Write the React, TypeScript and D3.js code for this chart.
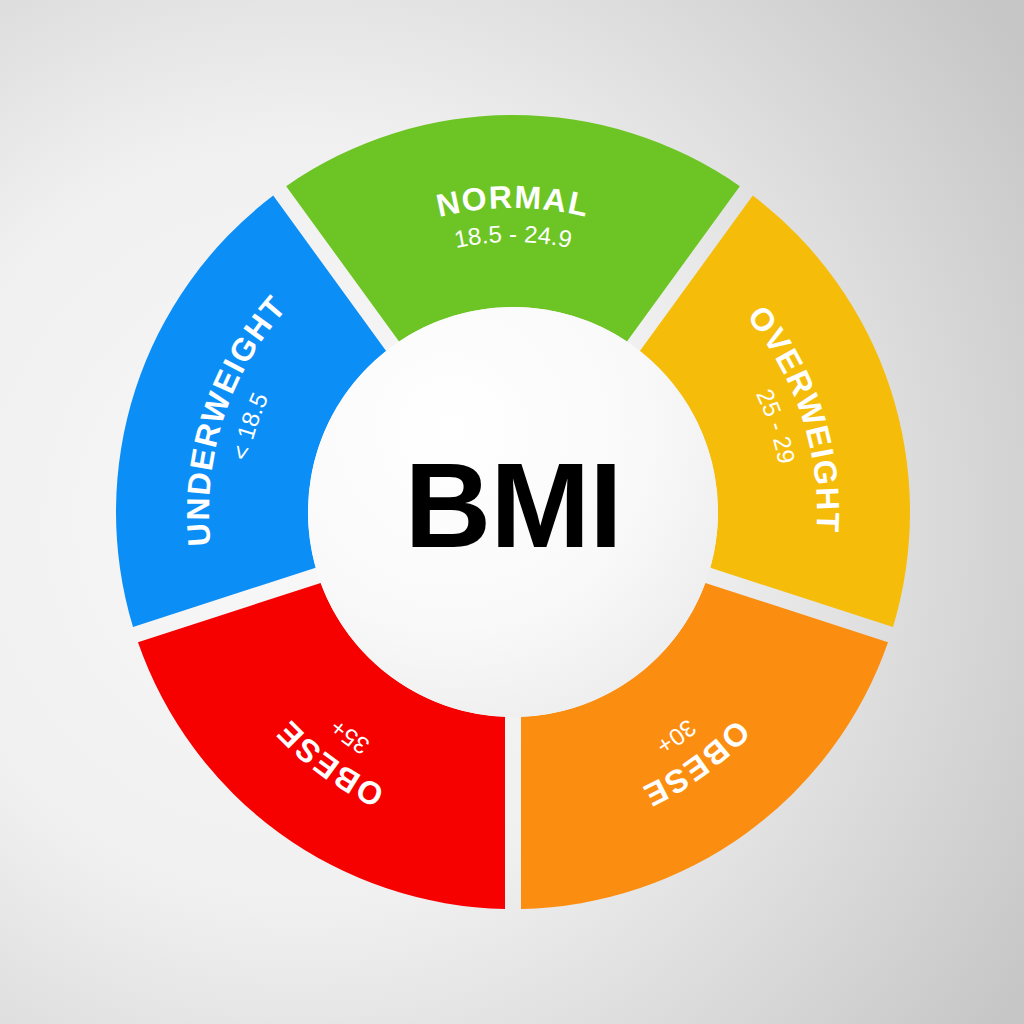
import { useEffect, useRef } from 'react';
import * as d3 from 'd3';

// segments go clockwise starting with the one at the top
const categories = ['NORMAL', 'OVERWEIGHT', 'OBESE', 'OBESE', 'UNDERWEIGHT'];
const ranges = ['18.5 - 24.9', '25 - 29', '30+', '35+', '< 18.5'];
const shares = [1, 1, 1, 1, 1];
const colors = ['#6cc524', '#f5bd0a', '#fb8d10', '#f70000', '#0b8ef6'];
const centerLabel = 'BMI';

export default function App() {
  const svgRef = useRef<SVGSVGElement>(null);
  const width = 1024;
  const height = 1024;

  useEffect(() => {
    if (!svgRef.current) return;
    const svg = d3.select(svgRef.current);
    svg.selectAll('*').remove();

    const cx = 513;
    const cy = 512;
    const outerR = 397;
    const innerR = 205;
    const gap = 16;

    const defs = svg.append('defs');

    const bg = defs.append('radialGradient')
      .attr('id', 'bg-grad')
      .attr('gradientUnits', 'userSpaceOnUse')
      .attr('cx', 300).attr('cy', 520).attr('r', 860);
    bg.append('stop').attr('offset', '0%').attr('stop-color', '#f8f8f8');
    bg.append('stop').attr('offset', '45%').attr('stop-color', '#f0f0f0');
    bg.append('stop').attr('offset', '100%').attr('stop-color', '#c6c6c6');

    const hub = defs.append('radialGradient')
      .attr('id', 'hub-grad')
      .attr('cx', '35%').attr('cy', '30%').attr('r', '80%');
    hub.append('stop').attr('offset', '0%').attr('stop-color', '#ffffff');
    hub.append('stop').attr('offset', '60%').attr('stop-color', '#f9f9f9');
    hub.append('stop').attr('offset', '100%').attr('stop-color', '#ececec');

    svg.append('rect')
      .attr('width', width)
      .attr('height', height)
      .attr('fill', 'url(#bg-grad)');

    const g = svg.append('g').attr('transform', `translate(${cx},${cy})`);

    const pie = d3.pie<number>()
      .sort(null)
      .startAngle(-Math.PI / 5)
      .endAngle(2 * Math.PI - Math.PI / 5);
    const arcs = pie(shares);

    const arc = d3.arc<d3.PieArcDatum<number>>()
      .innerRadius(innerR)
      .outerRadius(outerR)
      .padRadius(outerR)
      .padAngle(gap / outerR);

    g.selectAll('path.seg')
      .data(arcs)
      .enter()
      .append('path')
      .attr('class', 'seg')
      .attr('fill', (_, i) => colors[i])
      .attr('d', arc);

    g.append('circle')
      .attr('r', innerR)
      .attr('fill', 'url(#hub-grad)');

    // curved labels: clockwise arcs around each segment's middle
    const labelPath = (mid: number, r: number) => {
      const p = d3.path();
      const a0 = mid - Math.PI / 2 - 0.7;
      const a1 = mid - Math.PI / 2 + 0.7;
      p.arc(0, 0, r, a0, a1, false);
      return p.toString();
    };

    arcs.forEach((d, i) => {
      const mid = (d.startAngle + d.endAngle) / 2;
      defs.append('path')
        .attr('id', `main-${i}`)
        .attr('d', labelPath(mid, 304));
      defs.append('path')
        .attr('id', `sub-${i}`)
        .attr('d', labelPath(mid, 270));

      g.append('text')
        .attr('fill', '#ffffff')
        .attr('font-family', 'Liberation Sans, Arial, sans-serif')
        .attr('font-weight', 'bold')
        .attr('font-size', '32px')
        .attr('letter-spacing', '1.5px')
        .append('textPath')
        .attr('href', `#main-${i}`)
        .attr('startOffset', '50%')
        .attr('text-anchor', 'middle')
        .text(categories[i]);

      g.append('text')
        .attr('fill', '#ffffff')
        .attr('font-family', 'Liberation Sans, Arial, sans-serif')
        .attr('font-size', '24px')
        .append('textPath')
        .attr('href', `#sub-${i}`)
        .attr('startOffset', '50%')
        .attr('text-anchor', 'middle')
        .text(ranges[i]);
    });

    g.append('text')
      .attr('x', 0)
      .attr('y', 35)
      .attr('text-anchor', 'middle')
      .attr('fill', '#000000')
      .attr('font-family', 'Liberation Sans, Arial, sans-serif')
      .attr('font-weight', 'bold')
      .attr('font-size', '120px')
      .attr('letter-spacing', '-1px')
      .text(centerLabel);
  }, []);

  return (
    <svg
      ref={svgRef}
      width={width}
      height={height}
      style={{ position: 'absolute', left: 0, top: 0, display: 'block' }}
    />
  );
}
